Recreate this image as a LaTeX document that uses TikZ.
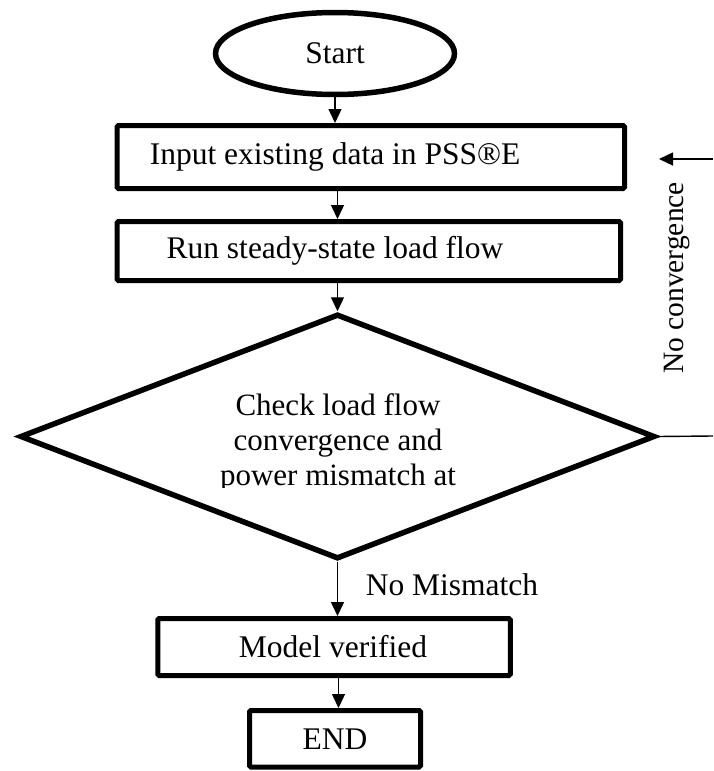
\documentclass[tikz,border=0pt]{standalone}
\usepackage{fontspec}
\setmainfont{Liberation Serif}
\usetikzlibrary{shapes.geometric,arrows.meta}
\begin{document}
\begin{tikzpicture}[x=1pt,y=-1pt,
  every node/.style={font=\fontsize{31.5}{35}\selectfont},
  boxnode/.style={draw, line width=5, rectangle, rounded corners=1.5, inner sep=0},
  txt/.style={inner sep=0, align=center},
  arr/.style={line width=1.4, -{Triangle[length=14,width=13]}},
  thinline/.style={line width=1.4},
]
\useasboundingbox (0,0) rectangle (713,771);

% shapes
\node[draw, ellipse, line width=5.5, minimum width=239, minimum height=82, inner sep=0] (st) at (335,53.5) {Start};
\node[boxnode, minimum width=507.5, minimum height=63] (in) at (370.75,157) {};
\node[txt] (intext) at (335,157) {Input existing data in PSS\textregistered E};
\node[boxnode, minimum width=503.5, minimum height=59] (rn) at (368.75,251) {};
\node[txt] (rntext) at (335,251) {Run steady-state load flow};
\node[draw, diamond, line width=5.5, minimum width=635, minimum height=245, inner sep=0] (chk) at (337.5,436.5) {};
\begin{scope}
  \clip (150,380) rectangle (530,487);
  \node[txt, font=\fontsize{31}{35}\selectfont] (chktext) at (338,443) {Check load flow\\convergence and\\power mismatch at};
\end{scope}
\node[boxnode, minimum width=352.5, minimum height=57] (mv) at (334,647) {};
\node[txt] (mvtext) at (333,647) {Model verified};
\node[boxnode, minimum width=171, minimum height=56.5] (en) at (335,738.75) {};
\node[txt] (entext) at (335,739) {END};

% labels
\node[txt] (nomis) at (452,585) {No Mismatch};
\node[txt, rotate=90, anchor=base, font=\fontsize{29.5}{35}\selectfont] (noconv) at (683,278) {No convergence};

% connectors
\draw[arr] (st.south) -- (st.south |- in.north);
\draw[arr] (in.south -| chk.north) -- (rn.north -| chk.north);
\draw[arr] (rn.south -| chk.north) -- (chk.north);
\draw[arr] (chk.south) -- (chk.south |- mv.north);
\draw[arr] ([xshift=1pt]mv.south -| chk.south) -- ([xshift=1pt]en.north -| chk.south);

% feedback stubs
\coordinate (fbin) at (713,159);
\coordinate (fbtip) at (659,159);
\coordinate (fbout) at (713,436);
\draw[arr] (fbin) -- (fbtip);
\draw[thinline] (chk.east) -- (fbout);
\end{tikzpicture}
\end{document}
